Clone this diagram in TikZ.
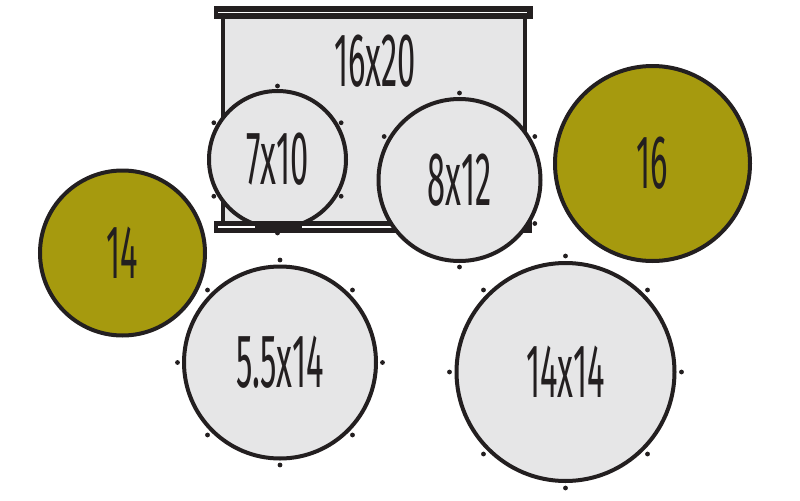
\documentclass[tikz,border=0pt]{standalone}
\usepackage{fontspec}
\newfontfamily\drumfont{Fira Sans}[FakeStretch=0.43]
\definecolor{shell}{RGB}{230,230,231}
\definecolor{rim}{RGB}{35,31,32}
\definecolor{cymbal}{RGB}{166,154,14}
\begin{document}
\begin{tikzpicture}[x=0.75pt,y=0.75pt,yscale=-1,xscale=1,
  drum/.style={circle,draw=rim,fill=shell,line width=3pt,inner sep=0pt,
    font=\drumfont\fontsize{57}{57}\selectfont,text=rim},
  crash/.style={drum,fill=cymbal},
  lug/.style={fill=rim},
  hoop/.style={fill=rim},
  gap/.style={draw=white,line width=1.1pt}]
%set diagram: 800 by 500
\useasboundingbox (0,0) rectangle (800,500);

%Shape: Rectangle [id:bass shell]
\fill[shell] (223,19) rectangle (525,222);
\draw[rim,line width=3pt] (223,19) -- (223,222);
\draw[rim,line width=3pt] (525,19) -- (525,222);
%Shape: Rectangle [id:bass top hoop]
\fill[hoop] (214,6) rectangle (533,19);
\draw[gap] (218,12.5) -- (527,12.5);
% Text Node
\node[font=\drumfont\fontsize{57}{57}\selectfont,text=rim,inner sep=0pt] (bass) at (375,61) {16x20};

%Shape: Circle [id:rack tom]
\node[drum,minimum size=102.75pt] (tomA) at (277.5,159.5) {7x10};
\foreach \a in {30,90,...,330} \fill[lug] (tomA) ++(\a:73.5) circle (2.4);
%Shape: Rectangle [id:bass bottom hoop]
\fill[hoop] (214,221) rectangle (532,233);
\draw[gap] (218,227) -- (255,227);
\draw[gap] (302,227) -- (392,227);

%Shape: Circle [id:rack tom 2]
\node[drum,minimum size=121.5pt] (tomB) at (459.5,180) {8x12};
\foreach \a in {30,90,...,330} \fill[lug] (tomB) ++(\a:87) circle (2.4);

%Shape: Circle [id:snare]
\node[drum,minimum size=144pt] (snare) at (280,362.5) {5.5x14};
\foreach \a in {0,45,...,315} \fill[lug] (snare) ++(\a:102.5) circle (2.4);

%Shape: Circle [id:floor tom]
\node[drum,minimum size=163.5pt] (floor) at (565.5,372) {14x14};
\foreach \a in {0,45,...,315} \fill[lug] (floor) ++(\a:116) circle (2.4);

%Shape: Circle [id:cymbals]
\node[crash,minimum size=123.75pt] (hats) at (122.5,253) {14};
\node[crash,minimum size=146.25pt] (crash) at (652.5,163.5) {16};

\end{tikzpicture}
\end{document}
